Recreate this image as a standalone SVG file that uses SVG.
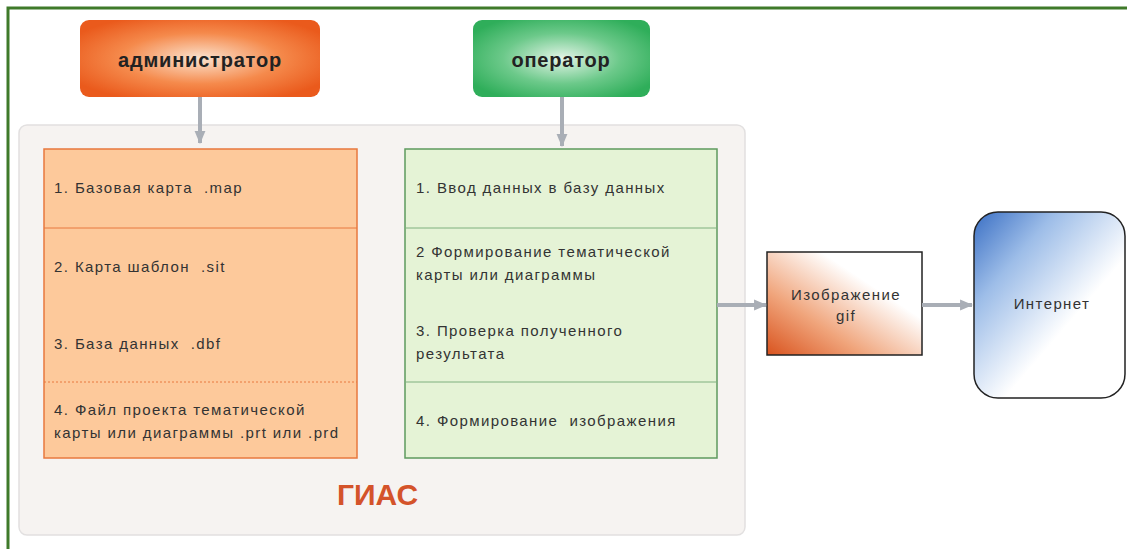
<svg xmlns="http://www.w3.org/2000/svg" width="1127" height="549" viewBox="0 0 1127 549" xml:space="preserve">
<defs>
<radialGradient id="gAdmin" cx="0.5" cy="0.5" r="0.6">
<stop offset="0" stop-color="#fbe3cf"/>
<stop offset="0.55" stop-color="#f58a4c"/>
<stop offset="1" stop-color="#ea5a1c"/>
</radialGradient>
<radialGradient id="gOper" cx="0.5" cy="0.5" r="0.6">
<stop offset="0" stop-color="#e4f4e8"/>
<stop offset="0.55" stop-color="#6cc98a"/>
<stop offset="1" stop-color="#2fae5a"/>
</radialGradient>
<linearGradient id="gImg" x1="0" y1="1" x2="0.9" y2="0.1">
<stop offset="0" stop-color="#d9531e"/>
<stop offset="0.35" stop-color="#f0a57c"/>
<stop offset="0.75" stop-color="#ffffff"/>
</linearGradient>
<linearGradient id="gNet" x1="0" y1="0" x2="0.85" y2="0.9">
<stop offset="0" stop-color="#3a6fc4"/>
<stop offset="0.3" stop-color="#9dbde8"/>
<stop offset="0.7" stop-color="#ffffff"/>
</linearGradient>
<marker id="arr" viewBox="0 0 12 12" refX="11" refY="6" markerWidth="13" markerHeight="13" markerUnits="userSpaceOnUse" orient="auto">
<path d="M0,1 L12,6 L0,11 Z" fill="#a9aeb6"/>
</marker>
<style>
.t{font-family:"Liberation Sans",Arial,sans-serif;font-size:15px;letter-spacing:1.4px;fill:#333;white-space:pre}
.h{font-family:"Liberation Sans",Arial,sans-serif;font-size:20px;letter-spacing:0.8px;font-weight:bold;fill:#222;text-anchor:middle}
.c{stroke:#a9aeb6;stroke-width:4;fill:none}
.div{stroke-width:1}
</style>
</defs>
<rect width="1127" height="549" fill="#ffffff"/>
<g id="frame">
<path d="M8,549 L8,8 L1127,8" fill="none" stroke="#3f7a2a" stroke-width="3"/>
</g>
<g id="gias">
<rect x="19" y="125" width="726" height="410" rx="8" fill="#f6f3f1" stroke="#e2e0e0" stroke-width="1.5"/>
<text x="337" y="505" font-family="'Liberation Sans',Arial,sans-serif" font-size="30" font-weight="bold" fill="#d4532a">ГИАС</text>
</g>
<g id="admin">
<rect x="80" y="20" width="240" height="77" rx="9" fill="url(#gAdmin)"/>
<text class="h" x="200" y="67">администратор</text>
</g>
<g id="operator">
<rect x="473" y="20" width="177" height="77" rx="9" fill="url(#gOper)"/>
<text class="h" x="561" y="67">оператор</text>
</g>
<g id="admin-list">
<rect x="44" y="149" width="313" height="309" fill="#fdc99b" stroke="#e8783e" stroke-width="1.5"/>
<line class="div" x1="44" y1="228" x2="357" y2="228" stroke="#e8783e"/>
<line class="div" x1="44" y1="382" x2="357" y2="382" stroke="#e8783e" stroke-dasharray="2,2"/>
<text class="t" x="54" y="193">1. Базовая карта  .map</text>
<text class="t" x="54" y="272">2. Карта шаблон  .sit</text>
<text class="t" x="54" y="349">3. База данных  .dbf</text>
<text class="t" x="54" y="415">4. Файл проекта тематической</text>
<text class="t" x="54" y="438">карты или диаграммы .prt или .prd</text>
</g>
<g id="operator-list">
<rect x="405" y="149" width="312" height="309" fill="#e5f3d6" stroke="#5e9a5e" stroke-width="1.5"/>
<line class="div" x1="405" y1="228" x2="717" y2="228" stroke="#7fb07f"/>
<line class="div" x1="405" y1="382" x2="717" y2="382" stroke="#7fb07f"/>
<text class="t" x="416" y="193">1. Ввод данных в базу данных</text>
<text class="t" x="416" y="257">2 Формирование тематической</text>
<text class="t" x="416" y="280">карты или диаграммы</text>
<text class="t" x="416" y="336">3. Проверка полученного</text>
<text class="t" x="416" y="359">результата</text>
<text class="t" x="416" y="426">4. Формирование  изображения</text>
</g>
<g id="image">
<rect x="767" y="252" width="155" height="103" fill="url(#gImg)" stroke="#222" stroke-width="1.5"/>
<text class="t" x="846" y="300" text-anchor="middle">Изображение</text>
<text class="t" x="846" y="321" text-anchor="middle">gif</text>
</g>
<g id="internet">
<rect x="974" y="212" width="151" height="186" rx="24" fill="url(#gNet)" stroke="#222" stroke-width="1.5"/>
<text class="t" x="1052" y="309" text-anchor="middle">Интернет</text>
</g>
<g id="connectors">
<line class="c" x1="200" y1="97" x2="200" y2="143" marker-end="url(#arr)"/>
<line class="c" x1="562" y1="97" x2="562" y2="146" marker-end="url(#arr)"/>
<line class="c" x1="717" y1="305" x2="766" y2="305" marker-end="url(#arr)"/>
<line class="c" x1="922" y1="305" x2="972" y2="305" marker-end="url(#arr)"/>
</g>
</svg>
